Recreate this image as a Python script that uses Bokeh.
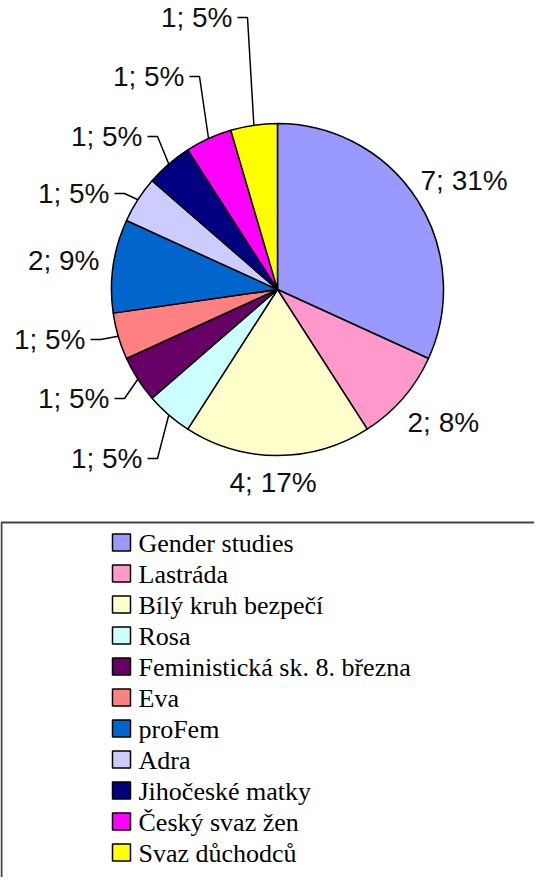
import math
from bokeh.plotting import figure
from bokeh.models import Range1d, ColumnDataSource
from bokeh.core.properties import value
from bokeh.embed import file_html
from bokeh.resources import INLINE

# ---- data ----
categories = ["Gender studies", "Lastráda", "Bílý kruh bezpečí", "Rosa",
              "Feministická sk. 8. března", "Eva", "proFem", "Adra",
              "Jihočeské matky", "Český svaz žen", "Svaz důchodců"]
counts = [7, 2, 4, 1, 1, 1, 2, 1, 1, 1, 1]
percents = [31, 8, 17, 5, 5, 5, 9, 5, 5, 5, 5]

# ---- styles / layout ----
colors = ["#9999FF", "#FF99CC", "#FFFFCC", "#CCFFFF", "#660066", "#FF8080",
          "#0066CC", "#CCCCFF", "#000080", "#FF00FF", "#FFFF00"]
W, H = 534, 877
def sx(x): return x - 8
def sy(y): return 885 - y

CX, CY, R = 285, 297, 166
# label anchors (screen coords), align, and whether a leader line is drawn
label_layout = [
    (428, 188, "left", False),
    (415, 430, "left", False),
    (237, 490, "left", False),
    (150, 466, "right", True),
    (117, 406, "right", True),
    (93, 347, "right", True),
    (107, 268, "right", False),
    (117, 201, "right", True),
    (150, 144, "right", True),
    (192, 84, "right", True),
    (240, 25, "right", True),
]

p = figure(width=W, height=H, output_backend="svg", toolbar_location=None,
           x_range=Range1d(0, W), y_range=Range1d(0, H),
           x_axis_type=None, y_axis_type=None, min_border=0)
p.grid.visible = False
p.outline_line_color = None
p.background_fill_color = "white"
p.border_fill_color = "white"

total = sum(counts)
starts, ends, mids = [], [], []
cum = 0
for c in counts:
    a0 = math.pi / 2 - 2 * math.pi * cum / total
    cum += c
    a1 = math.pi / 2 - 2 * math.pi * cum / total
    starts.append(a1)
    ends.append(a0)
    mids.append((a0 + a1) / 2)

src = ColumnDataSource(dict(x=[sx(CX)] * len(counts), y=[sy(CY)] * len(counts),
                            start=starts, end=ends, color=colors))
p.wedge(x="x", y="y", radius=R, start_angle="start", end_angle="end",
        fill_color="color", line_color="black", line_width=1.5, source=src)

# labels and leader lines
for i, (cnt, pct) in enumerate(zip(counts, percents)):
    lx, ly, align, leader = label_layout[i]
    p.text(x=[sx(lx)], y=[sy(ly)], text=[f"{cnt}; {pct}%"],
           text_font=value("Liberation Sans"), text_font_size="28px",
           text_align=align, text_baseline="middle", text_color="#111111")
    if leader:
        ex = CX + R * math.cos(mids[i])
        ey = CY - R * math.sin(mids[i])
        xs = [sx(lx + 5), sx(lx + 15), sx(ex)]
        ys = [sy(ly), sy(ly), sy(ey)]
        p.line(xs, ys, line_color="black", line_width=1.5)

# legend box (top and left borders, extends past the page)
p.line([sx(9), sx(9), sx(560)], [sy(900), sy(530), sy(530)],
       line_color="#444444", line_width=2)

row0, step = 550, 31.0
for i, name in enumerate(categories):
    yy = row0 + i * step
    p.rect(x=[sx(129)], y=[sy(yy)], width=18, height=17,
           fill_color=colors[i], line_color="black", line_width=1.5)
    p.text(x=[sx(146)], y=[sy(yy + 1)], text=[name],
           text_font=value("Liberation Serif"), text_font_size="26px",
           text_align="left", text_baseline="middle", text_color="black")

open("out.html", "w").write(file_html(p, INLINE))
